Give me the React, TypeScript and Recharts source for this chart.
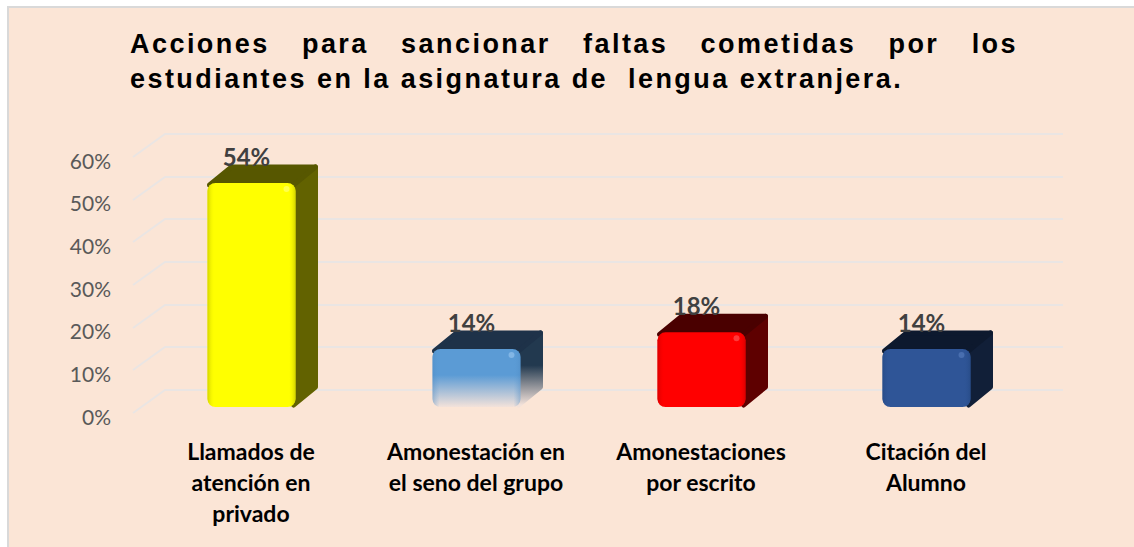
import React from "react";
import { ComposedChart, Bar, Line, XAxis, YAxis, CartesianGrid, LabelList } from "recharts";

// ---- data ----
const categories = [
  "Llamados de atención en privado",
  "Amonestación en el seno del grupo",
  "Amonestaciones por escrito",
  "Citación del Alumno",
];
const categoryLines = [
  ["Llamados de", "atención en", "privado"],
  ["Amonestación en", "el seno del grupo"],
  ["Amonestaciones", "por escrito"],
  ["Citación del", "Alumno"],
];
const values = [0.54, 0.14, 0.18, 0.14];
const yTicks = [0, 0.1, 0.2, 0.3, 0.4, 0.5, 0.6];
const titleLine1 = "Acciones para sancionar faltas cometidas por los";
const titleLine2 = "estudiantes en la asignatura de  lengua extranjera.";

// ---- styles ----
const palette = [
  { front: "#FFFF00", edge: "#C8C800", top: "#575700", side: "#626200", hi: "#FFFF80", fade: false },
  { front: "#5B9BD5", edge: "#4A86BE", top: "#1E3249", side: "#22394F", hi: "#9CC8F0", fade: true },
  { front: "#FF0000", edge: "#D00000", top: "#4A0000", side: "#5E0000", hi: "#FF6060", fade: false },
  { front: "#2F5597", edge: "#264A85", top: "#0D192E", side: "#111F38", hi: "#5A7FC0", fade: false },
];
const BG = "#FBE5D6";
const DX = 22;
const DY = 18;

const data = categories.map((c, i) => ({ name: c, value: values[i], idx: i }));

const pct = (v: number) => `${Math.round(v * 100)}%`;

function Box3D(props: any) {
  const { x, y, width, height, index } = props;
  if (width == null || height == null) return null;
  const p = palette[index % palette.length];
  const r = 8;
  const id = `g${index}`;
  const topPoly = `${x + 2},${y + 2} ${x + DX + 2},${y - DY + 2} ${x + width + DX - 2},${y - DY + 2} ${x + width - 2},${y + 2}`;
  const sidePoly = `${x + width - 2},${y + 2} ${x + width + DX - 2},${y - DY + 2} ${x + width + DX - 2},${y + height - DY - 2} ${x + width - 2},${y + height - 2}`;
  return (
    <g>
      <defs>
        <linearGradient id={`${id}f`} x1="0" y1="0" x2="0" y2="1">
          <stop offset="0" stopColor={p.front} />
          <stop offset={p.fade ? 0.45 : 1} stopColor={p.front} />
          <stop offset="1" stopColor={p.fade ? "#F3E2DA" : p.front} />
        </linearGradient>
        <linearGradient id={`${id}s`} x1="0" y1="0" x2="0" y2="1">
          <stop offset="0" stopColor={p.side} />
          <stop offset={p.fade ? 0.45 : 1} stopColor={p.side} />
          <stop offset="1" stopColor={p.fade ? "#F3E2DA" : p.side} />
        </linearGradient>
        <linearGradient id={`${id}h`} x1="0" y1="0" x2="1" y2="0">
          <stop offset="0" stopColor={p.edge} />
          <stop offset="0.08" stopColor={p.front} stopOpacity="0" />
          <stop offset="0.92" stopColor={p.front} stopOpacity="0" />
          <stop offset="1" stopColor={p.edge} />
        </linearGradient>
      </defs>
      <polygon points={sidePoly} fill={`url(#${id}s)`} stroke={`url(#${id}s)`} strokeWidth={5} strokeLinejoin="round" />
      <polygon points={topPoly} fill={p.top} stroke={p.top} strokeWidth={5} strokeLinejoin="round" />
      <rect x={x} y={y} width={width} height={height} rx={r} ry={r} fill={`url(#${id}f)`} />
      <rect x={x} y={y} width={width} height={height} rx={r} ry={r} fill={`url(#${id}h)`} opacity={p.fade ? 0.4 : 0.8} />
      <rect x={x + width - 12} y={y + 3} width={6} height={6} rx={3} fill={p.hi} opacity={0.6} />
    </g>
  );
}

function ValueLabel(props: any) {
  const { x, y, width, value } = props;
  return (
    <text
      x={x + width / 2 - 5}
      y={y - DY + 1}
      textAnchor="middle"
      fontFamily="Lato, 'Noto Sans', sans-serif"
      fontWeight={700}
      fontSize={24}
      fill="#404040"
    >
      {pct(value)}
    </text>
  );
}

function YTick(props: any) {
  const { y, payload } = props;
  return (
    <text
      x={111}
      y={y + 3}
      textAnchor="end"
      dominantBaseline="central"
      fontFamily="Lato, 'Noto Sans', sans-serif"
      fontSize={21}
      fill="#595959"
    >
      {pct(payload.value)}
    </text>
  );
}

function XTick(props: any) {
  const { x, payload, index } = props;
  const lines = categoryLines[index] || [String(payload.value)];
  return (
    <g>
      {lines.map((ln, i) => (
        <text
          key={i}
          x={x}
          y={460 + i * 31}
          textAnchor="middle"
          fontFamily="Lato, 'Noto Sans', sans-serif"
          fontWeight={700}
          fontSize={23}
          fill="#000000"
        >
          {ln}
        </text>
      ))}
    </g>
  );
}

function GridLine(props: any) {
  const { x1, x2, y1 } = props;
  const yy = Math.round(y1);
  const x0 = Math.round(x1);
  return (
    <path
      d={`M${x0 - 6},${yy} L${x0 + 26},${yy - 23} L${Math.round(x2) + 24},${yy - 23}`}
      fill="none"
      stroke="#EAE5E3"
      strokeWidth={2}
    />
  );
}

const titleStyle: React.CSSProperties = {
  fontFamily: "'Liberation Sans', Arial, sans-serif",
  fontWeight: 700,
  fontSize: 27,
  letterSpacing: 2.45,
  color: "#000",
  whiteSpace: "pre",
  lineHeight: "35px",
};

export default function App() {
  return (
    <div style={{ position: "absolute", left: 0, top: 0, width: 1134, height: 547, background: "#fff", overflow: "hidden" }}>
      <div
        style={{
          position: "absolute",
          left: 7,
          top: 6,
          width: 1140,
          height: 560,
          background: BG,
          borderLeft: "2px solid #D9D9D9",
          borderTop: "2px solid #D9D9D9",
        }}
      />
      <div style={{ position: "absolute", left: 130, top: 27, width: 888 }}>
        <div style={{ ...titleStyle, textAlign: "justify", textAlignLast: "justify", whiteSpace: "normal" }}>{titleLine1}</div>
        <div style={titleStyle}>{titleLine2}</div>
      </div>
      <div style={{ position: "absolute", left: 0, top: 0 }}>
        <ComposedChart
          width={1134}
          height={547}
          data={data}
          margin={{ top: 157, right: 95.5, left: 78.5, bottom: 34 }}
          barSize={88}
        >
          <CartesianGrid
            yAxisId="grid"
            vertical={false}
            horizontal={(p: any) => <GridLine key={`gl-${p.index ?? p.y1}`} {...p} />}
          />
          <XAxis
            dataKey="name"
            axisLine={false}
            tickLine={false}
            height={100}
            interval={0}
            tick={<XTick />}
          />
          <YAxis
            yAxisId="grid"
            width={60}
            domain={[0, 0.6]}
            ticks={yTicks}
            type="number"
            axisLine={false}
            tickLine={false}
            interval={0}
            allowDataOverflow
            tick={<YTick />}
          />
          <YAxis yAxisId="bars" hide type="number" domain={[-0.01446, 0.6026]} allowDataOverflow />
          <Line
            yAxisId="grid"
            dataKey="value"
            stroke="none"
            strokeWidth={0}
            dot={false}
            activeDot={false}
            legendType="none"
            isAnimationActive={false}
          />
          <Bar dataKey="value" yAxisId="bars" isAnimationActive={false} shape={(p: any) => <Box3D {...p} />}>
            <LabelList dataKey="value" content={(p: any) => <ValueLabel {...p} />} />
          </Bar>
        </ComposedChart>
      </div>
    </div>
  );
}
